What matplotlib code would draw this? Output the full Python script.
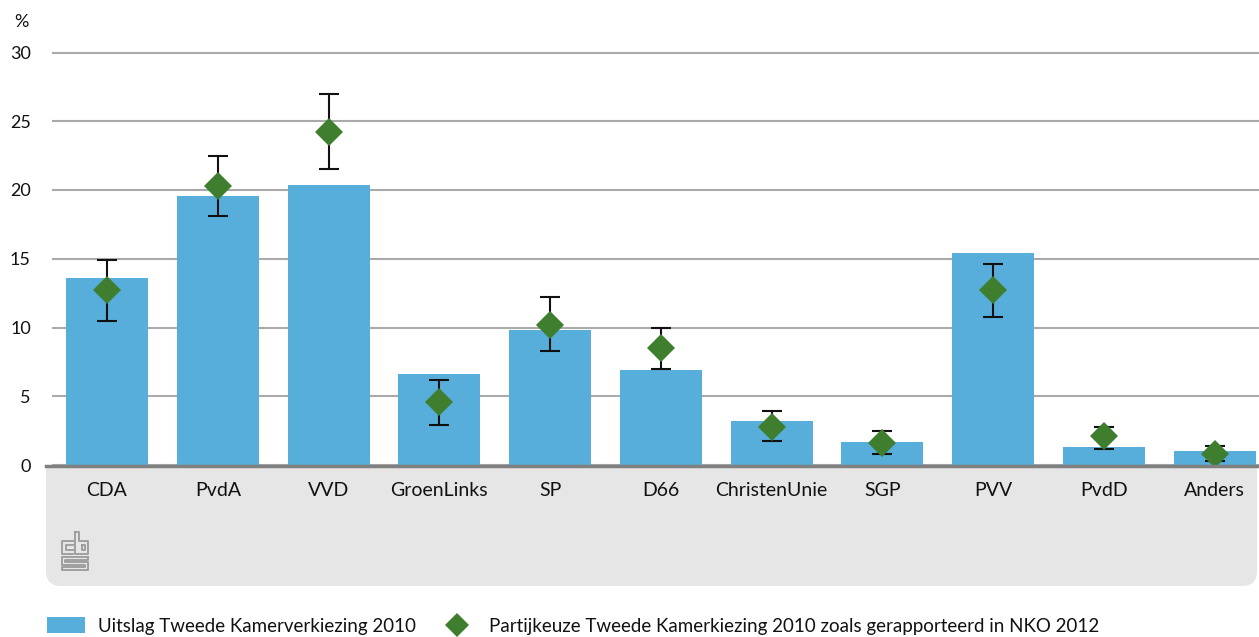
import matplotlib
matplotlib.use("Agg")
import matplotlib.pyplot as plt
from matplotlib.patches import FancyBboxPatch, Rectangle, Patch
from matplotlib.lines import Line2D
import numpy as np

categories = ["CDA", "PvdA", "VVD", "GroenLinks", "SP", "D66", "ChristenUnie", "SGP", "PVV", "PvdD", "Anders"]
uitslag = [13.6, 19.6, 20.4, 6.6, 9.8, 6.9, 3.2, 1.7, 15.4, 1.3, 1.0]
nko = [12.7, 20.3, 24.2, 4.6, 10.2, 8.5, 2.8, 1.6, 12.7, 2.1, 0.8]
nko_low = [10.5, 18.1, 21.5, 2.9, 8.3, 7.0, 1.75, 0.8, 10.8, 1.2, 0.3]
nko_high = [14.9, 22.5, 27.0, 6.2, 12.2, 10.0, 3.95, 2.5, 14.6, 2.8, 1.4]
yticks = [0, 5, 10, 15, 20, 25, 30]
legend_labels = ["Uitslag Tweede Kamerverkiezing 2010",
                 "Partijkeuze Tweede Kamerkiezing 2010 zoals gerapporteerd in NKO 2012"]

BLUE = "#57aedb"
GREEN = "#3e7e2e"
FONT = "Lato"
plt.rcParams["font.family"] = [FONT, "DejaVu Sans"]

W, H = 1259, 637
fig = plt.figure(figsize=(W / 100, H / 100), dpi=100)

def fx(px):
    return px / W

def fy(py):
    return 1 - py / H

# gray band under the axis
band = FancyBboxPatch((fx(46), fy(586)), fx(1257) - fx(46), fy(466) - fy(586),
                      boxstyle="round,pad=0,rounding_size=0.012",
                      transform=fig.transFigure, facecolor="#e6e6e6", edgecolor="none",
                      mutation_aspect=W / H, zorder=-2)
fig.patches.append(band)
fig.patches.append(Rectangle((fx(46), fy(530)), fx(1257) - fx(46), fy(466) - fy(530),
                             transform=fig.transFigure, facecolor="#e6e6e6", edgecolor="none", zorder=-2))

ax = fig.add_axes([fx(53), fy(465), 1 - fx(53), fy(52.5) - fy(465)])
ax.set_zorder(1)
x = np.arange(len(categories))
ax.set_axisbelow(True)
ax.yaxis.grid(True, color="#aaaaaa", linewidth=1.5)
for gl in ax.get_ygridlines():
    gl.set_clip_on(False)
ax.bar(x, uitslag, width=0.74, color=BLUE, zorder=2)
yerr = [np.array(nko) - np.array(nko_low), np.array(nko_high) - np.array(nko)]
ax.errorbar(x, nko, yerr=yerr, fmt="none", ecolor="#111111", elinewidth=1.5,
            capsize=7, capthick=1.5, zorder=3)
ax.plot(x, nko, linestyle="none", marker="D", markersize=14.5, color=GREEN,
        markeredgewidth=0, zorder=4)
ax.set_ylim(0, 30)
ax.set_xlim(-0.488, 10.40)
ax.set_yticks(yticks)
ax.set_yticklabels([str(v) for v in yticks], fontsize=13, color="#111111")
ax.set_xticks(x)
ax.set_xticklabels(categories, fontsize=14, color="#111111")
ax.tick_params(axis="both", length=0)
ax.tick_params(axis="y", pad=16)
ax.tick_params(axis="x", pad=12)
for s in ax.spines.values():
    s.set_visible(False)
ax.patch.set_alpha(0)

fig.text(fx(29), fy(22), "%", fontsize=13, color="#111111", ha="right", va="center")

# axis base line
fig.lines.append(Line2D([fx(46), 1], [fy(465.5), fy(465.5)], transform=fig.transFigure,
                        color="#808080", linewidth=2.5, zorder=5))

# cbs logo (simplified)
lc = "#9a9a9a"
def poly(pts):
    xs = [fx(p[0]) for p in pts]
    ys = [fy(p[1]) for p in pts]
    fig.lines.append(Line2D(xs, ys, transform=fig.transFigure, color=lc, linewidth=1.3))
poly([(73, 541), (62, 541), (62, 554), (73, 554)])
poly([(73, 545), (66, 545), (66, 550), (73, 550)])
poly([(75, 532), (75, 554), (88, 554), (88, 541), (79, 541), (79, 532), (75, 532)])
poly([(82, 545), (85, 545), (85, 550), (82, 550), (82, 545)])
poly([(88, 557), (62, 557), (62, 565), (85, 565), (85, 567), (62, 567), (62, 570), (88, 570), (88, 562), (65, 562), (65, 560), (88, 560), (88, 557)])

# legend
handles = [Patch(facecolor=BLUE, edgecolor="none"),
           Line2D([], [], linestyle="none", marker="D", markersize=12, color=GREEN, markeredgewidth=0)]
fig.legend(handles, legend_labels, loc="center left", bbox_to_anchor=(fx(47), fy(626)),
           ncol=2, frameon=False, fontsize=13.5, handlelength=2.0, handleheight=0.9,
           handletextpad=0.7, columnspacing=1.2, borderpad=0, borderaxespad=0,
           labelcolor="#111111")

fig.savefig("out.png", dpi=100)
